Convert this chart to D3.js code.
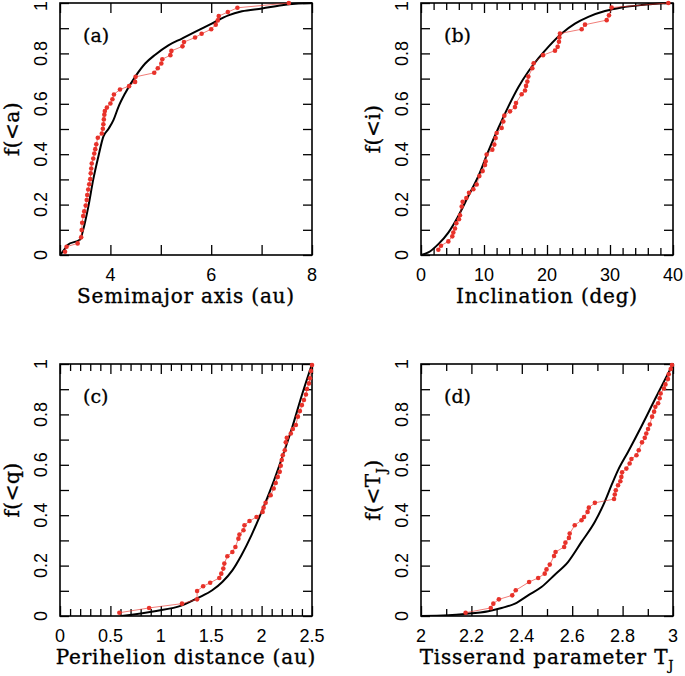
<!DOCTYPE html>
<html><head><meta charset="utf-8">
<script src="https://cdn.jsdelivr.net/npm/d3@7"></script>
<style>body{margin:0;background:#fff}svg{display:block}</style>
</head><body>
<script>
// ---- Data ----
// Panel (a): semimajor axis
const aObserved = [[3.10,0.013],[3.13,0.033],[3.35,0.046],[3.42,0.070],[3.43,0.099],[3.44,0.128],[3.46,0.155],[3.48,0.173],[3.51,0.196],[3.53,0.218],[3.54,0.238],[3.56,0.260],[3.58,0.281],[3.60,0.301],[3.61,0.324],[3.62,0.343],[3.63,0.363],[3.66,0.383],[3.68,0.403],[3.70,0.420],[3.72,0.439],[3.75,0.465],[3.83,0.482],[3.85,0.501],[3.86,0.519],[3.87,0.538],[3.88,0.557],[3.89,0.571],[3.93,0.585],[4.00,0.601],[4.04,0.618],[4.07,0.637],[4.19,0.657],[4.37,0.670],[4.49,0.687],[4.50,0.707],[4.87,0.723],[4.94,0.741],[5.01,0.760],[5.03,0.777],[5.19,0.793],[5.21,0.810],[5.43,0.828],[5.46,0.845],[5.68,0.863],[5.81,0.878],[6.00,0.896],[6.09,0.914],[6.13,0.931],[6.15,0.948],[6.33,0.964],[6.52,0.981],[7.54,1.000]];
const aModel = [[3.00,0.000],[3.10,0.025],[3.15,0.040],[3.40,0.062],[3.46,0.100],[3.56,0.190],[3.66,0.300],[3.76,0.390],[3.86,0.470],[3.96,0.500],[4.06,0.535],[4.16,0.588],[4.29,0.641],[4.49,0.707],[4.69,0.760],[4.89,0.795],[5.15,0.832],[5.42,0.859],[5.68,0.885],[6.01,0.918],[6.34,0.951],[6.61,0.967],[7.01,0.978],[7.40,0.991],[7.67,0.997],[8.00,1.000]];
// Panel (b): inclination
const bObserved = [[2.75,0.021],[3.17,0.037],[4.34,0.054],[4.97,0.074],[5.13,0.089],[5.40,0.105],[5.61,0.126],[6.03,0.142],[6.19,0.158],[6.46,0.192],[6.61,0.211],[7.20,0.226],[7.62,0.247],[8.31,0.261],[8.84,0.280],[9.26,0.313],[9.79,0.333],[10.16,0.357],[10.26,0.372],[10.42,0.399],[11.32,0.418],[11.64,0.438],[11.85,0.464],[12.01,0.484],[12.80,0.504],[13.07,0.530],[13.23,0.553],[14.13,0.570],[14.92,0.587],[15.08,0.603],[15.98,0.638],[16.51,0.653],[16.67,0.671],[16.88,0.688],[17.04,0.708],[17.67,0.741],[17.88,0.761],[19.37,0.793],[21.27,0.811],[21.69,0.826],[21.90,0.846],[21.96,0.863],[22.06,0.879],[25.50,0.896],[26.03,0.914],[29.47,0.932],[29.84,0.951],[30.26,0.982],[39.26,1.000]];
const bModel = [[0.0,0.000],[1.16,0.010],[2.75,0.043],[4.34,0.089],[5.93,0.155],[7.51,0.234],[9.10,0.313],[10.69,0.412],[12.28,0.504],[13.86,0.589],[15.45,0.666],[17.04,0.728],[18.62,0.780],[20.21,0.826],[22.33,0.879],[24.44,0.918],[26.56,0.945],[29.21,0.968],[31.85,0.982],[35.03,0.992],[39.26,1.000]];
// Panel (c): perihelion distance
const cObserved = [[0.589,0.013],[0.884,0.032],[1.21,0.049],[1.36,0.066],[1.36,0.099],[1.42,0.118],[1.49,0.132],[1.58,0.151],[1.60,0.168],[1.62,0.188],[1.63,0.208],[1.66,0.237],[1.71,0.254],[1.74,0.274],[1.77,0.307],[1.78,0.323],[1.82,0.340],[1.83,0.360],[1.88,0.377],[1.95,0.393],[2.01,0.413],[2.02,0.430],[2.04,0.449],[2.09,0.479],[2.12,0.506],[2.14,0.528],[2.16,0.552],[2.18,0.572],[2.19,0.596],[2.20,0.619],[2.21,0.638],[2.23,0.658],[2.24,0.689],[2.25,0.707],[2.29,0.724],[2.31,0.742],[2.34,0.758],[2.36,0.791],[2.38,0.813],[2.40,0.837],[2.42,0.857],[2.44,0.879],[2.45,0.901],[2.47,0.923],[2.48,0.943],[2.49,0.972],[2.50,0.996]];
const cModel = [[0.61,0.000],[0.94,0.019],[1.21,0.042],[1.37,0.072],[1.51,0.102],[1.61,0.135],[1.71,0.181],[1.80,0.241],[1.90,0.321],[2.00,0.413],[2.10,0.513],[2.20,0.625],[2.30,0.744],[2.40,0.877],[2.50,1.000]];
// Panel (d): Tisserand parameter
const dObserved = [[2.177,0.013],[2.277,0.032],[2.287,0.049],[2.309,0.066],[2.362,0.082],[2.376,0.102],[2.429,0.135],[2.465,0.151],[2.491,0.168],[2.498,0.185],[2.511,0.204],[2.528,0.238],[2.534,0.254],[2.568,0.274],[2.573,0.291],[2.587,0.310],[2.590,0.327],[2.610,0.360],[2.637,0.380],[2.647,0.393],[2.661,0.413],[2.666,0.430],[2.690,0.449],[2.766,0.464],[2.769,0.482],[2.773,0.499],[2.782,0.519],[2.791,0.535],[2.795,0.552],[2.798,0.570],[2.815,0.585],[2.828,0.605],[2.835,0.623],[2.855,0.638],[2.864,0.658],[2.877,0.689],[2.888,0.707],[2.894,0.724],[2.901,0.742],[2.908,0.760],[2.917,0.791],[2.925,0.811],[2.930,0.830],[2.941,0.844],[2.947,0.864],[2.951,0.883],[2.964,0.903],[2.970,0.919],[2.980,0.940],[2.983,0.959],[2.991,0.980],[2.996,0.996]];
const dModel = [[2.000,0.000],[2.108,0.003],[2.174,0.008],[2.267,0.019],[2.320,0.032],[2.373,0.049],[2.425,0.082],[2.478,0.115],[2.531,0.164],[2.584,0.215],[2.637,0.294],[2.690,0.374],[2.729,0.453],[2.756,0.519],[2.782,0.579],[2.822,0.652],[2.874,0.751],[2.927,0.857],[2.967,0.936],[3.000,1.000]];

// Tick values / labels
const yTicks = [0,0.1,0.2,0.3,0.4,0.5,0.6,0.7,0.8,0.9,1];
const yLabels = [0,0.2,0.4,0.6,0.8,1];
const yLabelText = ["0","0.2","0.4","0.6","0.8","1"];
const aTicks = [3,4,5,6,7,8], aLabels = [4,6,8], aLabelText = ["4","6","8"];
const bTicks = [0,2,4,6,8,10,12,14,16,18,20,22,24,26,28,30,32,34,36,38,40], bLabels=[0,10,20,30,40], bLabelText=["0","10","20","30","40"];
const cTicks = [0,0.1,0.2,0.3,0.4,0.5,0.6,0.7,0.8,0.9,1,1.1,1.2,1.3,1.4,1.5,1.6,1.7,1.8,1.9,2,2.1,2.2,2.3,2.4,2.5], cLabels=[0,0.5,1,1.5,2,2.5], cLabelText=["0","0.5","1","1.5","2","2.5"];
const dTicks = [2,2.1,2.2,2.3,2.4,2.5,2.6,2.7,2.8,2.9,3], dLabels=[2,2.2,2.4,2.6,2.8,3], dLabelText=["2","2.2","2.4","2.6","2.8","3"];

const W=685, H=676;
const svg = d3.select("body").append("svg").attr("width",W).attr("height",H);
const RED = "#e8322a";
const SERIF = "'DejaVu Serif', serif";
const SANS = "'Liberation Sans', Arial, sans-serif";

const panels = [
  {tag:"(a)", box:[60,312,3,255], xdom:[3,8], ticks:aTicks, major:aTicks, labels:aLabels, labelText:aLabelText, obs:aObserved, model:aModel, xtitle:"Semimajor axis (au)", yvar:"a"},
  {tag:"(b)", box:[421,673,3,255], xdom:[0,40], ticks:bTicks, major:bLabels, labels:bLabels, labelText:bLabelText, obs:bObserved, model:bModel, xtitle:"Inclination (deg)", yvar:"i"},
  {tag:"(c)", box:[60,312,364,616], xdom:[0,2.5], ticks:cTicks, major:cLabels, labels:cLabels, labelText:cLabelText, obs:cObserved, model:cModel, xtitle:"Perihelion distance (au)", yvar:"q"},
  {tag:"(d)", box:[421,673,364,616], xdom:[2,3], ticks:dTicks, major:dLabels, labels:dLabels, labelText:dLabelText, obs:dObserved, model:dModel, xtitle:"Tisserand parameter T", yvar:"T", sub:true}
];

panels.forEach(p => {
  const [L,R,T,B] = p.box;
  const x = d3.scaleLinear().domain(p.xdom).range([L,R]);
  const y = d3.scaleLinear().domain([0,1]).range([B,T]);
  const g = svg.append("g");
  const clipId = "clip"+p.yvar;
  svg.append("clipPath").attr("id",clipId).append("rect").attr("x",L).attr("y",T-3).attr("width",R-L+3).attr("height",B-T+3);

  // ticks (inward on all four sides)
  const majorSet = new Set(p.major.map(v=>+v.toFixed(4)));
  const minor = p.ticks.filter(v=>!majorSet.has(+v.toFixed(4)));
  const tickGroups = [
    [d3.axisBottom(x).tickValues(p.major).tickSize(-10), `translate(0,${B})`],
    [d3.axisBottom(x).tickValues(minor).tickSize(-7), `translate(0,${B})`],
    [d3.axisTop(x).tickValues(p.major).tickSize(-10), `translate(0,${T})`],
    [d3.axisTop(x).tickValues(minor).tickSize(-7), `translate(0,${T})`],
    [d3.axisLeft(y).tickValues(yTicks).tickSize(-9), `translate(${L},0)`],
    [d3.axisRight(y).tickValues(yTicks).tickSize(-9), `translate(${R},0)`]
  ];
  tickGroups.forEach(([ax,tr]) => {
    const a = g.append("g").attr("transform",tr).call(ax.tickFormat(""));
    a.select(".domain").remove();
    a.selectAll("line").attr("stroke","#000").attr("stroke-width",1.3);
  });

  // frame
  g.append("rect").attr("x",L).attr("y",T).attr("width",R-L).attr("height",B-T)
    .attr("fill","none").attr("stroke","#000").attr("stroke-width",1.6);

  // x tick labels
  g.selectAll("text.xl").data(p.labels).enter().append("text")
    .attr("x",d=>x(d)).attr("y",B+26).attr("text-anchor","middle")
    .attr("font-family",SANS).attr("font-size",18).attr("fill","#000")
    .text((d,i)=>p.labelText[i]);
  // y tick labels (rotated); keep the top label inside the picture
  g.selectAll("text.yl").data(yLabels).enter().append("text")
    .attr("transform",d=>`translate(${L-13},${Math.max(y(d),6)}) rotate(-90)`).attr("text-anchor","middle")
    .attr("font-family",SANS).attr("font-size",18).attr("fill","#000")
    .text((d,i)=>yLabelText[i]);

  // x title
  const xt = g.append("text").attr("x",(L+R)/2).attr("y",B+48).attr("text-anchor","middle")
    .attr("font-family",SERIF).attr("font-size",20).attr("letter-spacing",0.8)
    .attr("fill","#000").attr("stroke","#000").attr("stroke-width",0.35).text(p.xtitle);
  if (p.sub) xt.append("tspan").attr("font-size",13).attr("dy",6).text("J");
  // y title
  const yt = g.append("text").attr("transform",`translate(${L-41},${(T+B)/2}) rotate(-90)`)
    .attr("text-anchor","middle").attr("font-family",SERIF).attr("font-size",20).attr("letter-spacing",0.5)
    .attr("fill","#000").attr("stroke","#000").attr("stroke-width",0.35);
  yt.append("tspan").text("f(<"+p.yvar);
  if (p.sub) { yt.append("tspan").attr("font-size",13).attr("dy",6).text("J"); yt.append("tspan").attr("dy",-6).text(")"); }
  else yt.append("tspan").text(")");

  // panel tag
  g.append("text").attr("x",L+23).attr("y",T+39).attr("font-family",SERIF).attr("font-size",19)
    .attr("fill","#000").attr("stroke","#000").attr("stroke-width",0.3).text(p.tag);

  // model curve
  const line = d3.line().x(d=>x(d[0])).y(d=>y(d[1])).curve(d3.curveMonotoneX);
  g.append("path").datum(p.model).attr("clip-path",`url(#${clipId})`).attr("d",line)
    .attr("fill","none").attr("stroke","#000").attr("stroke-width",2);
  // observed
  const oline = d3.line().x(d=>x(d[0])).y(d=>y(d[1]));
  g.append("path").datum(p.obs).attr("d",oline).attr("fill","none")
    .attr("stroke",RED).attr("stroke-width",0.8).attr("stroke-opacity",0.8);
  g.selectAll("circle").data(p.obs).enter().append("circle")
    .attr("cx",d=>x(d[0])).attr("cy",d=>y(d[1])).attr("r",2.3).attr("fill",RED);
});
</script>
</body></html>
